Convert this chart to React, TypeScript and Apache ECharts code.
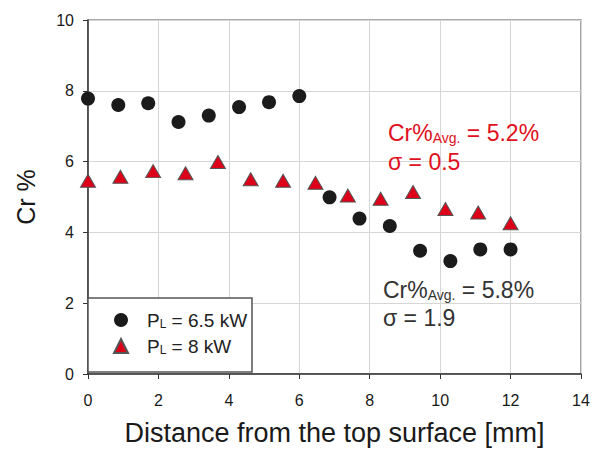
import React, { useEffect, useRef } from "react";
import * as echarts from "echarts";

const circleX = [0, 0.86, 1.71, 2.57, 3.43, 4.29, 5.14, 6.0, 6.86, 7.71, 8.57, 9.43, 10.29, 11.14, 12.0];
const circleY = [7.78, 7.6, 7.65, 7.12, 7.3, 7.54, 7.68, 7.85, 4.99, 4.39, 4.18, 3.48, 3.19, 3.52, 3.52];
const triX = [0, 0.92, 1.85, 2.77, 3.69, 4.62, 5.54, 6.46, 7.38, 8.31, 9.23, 10.15, 11.08, 12.0];
const triY = [5.46, 5.57, 5.73, 5.67, 5.99, 5.5, 5.46, 5.4, 5.04, 4.95, 5.14, 4.66, 4.56, 4.26];

const seriesNames = ["PL = 6.5 kW", "PL = 8 kW"];
const legendParts: Record<string, [string, string, string]> = {
  "PL = 6.5 kW": ["P", "L", " = 6.5 kW"],
  "PL = 8 kW": ["P", "L", " = 8 kW"],
};
const xName = "Distance from the top surface [mm]";
const yName = "Cr %";
const redNote = ["Cr%", "Avg.", " = 5.2%", "σ = 0.5"];
const blackNote = ["Cr%", "Avg.", " = 5.8%", "σ = 1.9"];

const FONT = "'Liberation Sans', Arial, sans-serif";
const RED = "#e01020";
const TRI_RED = "#dc0018";

export default function App() {
  const ref = useRef<HTMLDivElement>(null);
  useEffect(() => {
    if (!ref.current) return;
    const chart = echarts.init(ref.current, undefined, { renderer: "svg" });
    const noteRich = (color: string) => ({
      m: { fontSize: 23, fontFamily: FONT, fill: color, color, lineHeight: 25, verticalAlign: "bottom" },
      s: { fontSize: 14, fontFamily: FONT, fill: color, color, lineHeight: 17, verticalAlign: "bottom" },
    });
    chart.setOption({
      animation: false,
      textStyle: { fontFamily: FONT },
      grid: {
        left: 88,
        right: 20,
        top: 20,
        bottom: 75,
        show: true,
        borderColor: "#8c8c8c",
        borderWidth: 1.5,
        outerBoundsMode: "none",
        containLabel: false,
      },
      xAxis: {
        type: "value",
        min: 0,
        max: 14,
        interval: 2,
        name: xName,
        nameLocation: "middle",
        nameGap: 45,
        nameTextStyle: { fontSize: 27, color: "#1a1a1a", fontFamily: FONT },
        axisLine: { show: true, onZero: false, lineStyle: { color: "#333", width: 1.5 } },
        axisTick: { show: true, inside: false, length: 5, lineStyle: { color: "#333" } },
        axisLabel: { fontSize: 16, color: "#1a1a1a", margin: 18, fontFamily: FONT },
        splitLine: { show: true, lineStyle: { color: "#d6d6d6", width: 1 } },
      },
      yAxis: {
        type: "value",
        min: 0,
        max: 10,
        interval: 2,
        name: yName,
        nameLocation: "middle",
        nameGap: 50,
        nameTextStyle: { fontSize: 25, color: "#1a1a1a", fontFamily: FONT },
        axisLine: { show: true, onZero: false, lineStyle: { color: "#333", width: 1.5 } },
        axisTick: { show: true, inside: false, length: 5, lineStyle: { color: "#333" } },
        axisLabel: { fontSize: 16, color: "#1a1a1a", margin: 14, fontFamily: FONT },
        splitLine: { show: true, lineStyle: { color: "#d6d6d6", width: 1 } },
      },
      legend: {
        orient: "vertical",
        left: 113,
        top: 311,
        padding: 0,
        itemGap: 7,
        itemWidth: 14,
        itemHeight: 14,
        selectedMode: false,
        data: seriesNames,
        formatter: (name: string) => {
          const p = legendParts[name];
          return `{a|${p[0]}}{s|${p[1]}}{a|${p[2]}}`;
        },
        textStyle: {
          padding: [0, 0, 0, 14],
          rich: {
            a: { fontSize: 19, color: "#222", fontFamily: FONT, lineHeight: 20, verticalAlign: "bottom" },
            s: { fontSize: 12, color: "#222", fontFamily: FONT, lineHeight: 16, verticalAlign: "bottom" },
          },
        },
      },
      graphic: [
        {
          type: "rect",
          z: 3,
          shape: { x: 88, y: 298, width: 164, height: 74 },
          style: { fill: "#fff", stroke: "#555", lineWidth: 1.5 },
        },
        {
          type: "text",
          z: 5,
          x: 388,
          y: 132,
          style: {
            text: `{m|${redNote[0]}}{s|${redNote[1]}}{m|${redNote[2]}}`,
            rich: noteRich(RED),
            fill: RED,
            verticalAlign: "middle",
          },
        },
        {
          type: "text",
          z: 5,
          x: 388,
          y: 162,
          style: {
            text: redNote[3],
            fill: RED,
            font: `23px ${FONT}`,
            verticalAlign: "middle",
          },
        },
        {
          type: "text",
          z: 5,
          x: 383,
          y: 289,
          style: {
            text: `{m|${blackNote[0]}}{s|${blackNote[1]}}{m|${blackNote[2]}}`,
            rich: noteRich("#333"),
            fill: "#333",
            verticalAlign: "middle",
          },
        },
        {
          type: "text",
          z: 5,
          x: 383,
          y: 318,
          style: {
            text: blackNote[3],
            fill: "#333",
            font: `23px ${FONT}`,
            verticalAlign: "middle",
          },
        },
      ],
      series: [
        {
          name: seriesNames[0],
          type: "scatter",
          symbol: "circle",
          symbolSize: 14,
          itemStyle: { color: "#1b1b1b", opacity: 1 },
          data: circleX.map((x, i) => [x, circleY[i]]),
          z: 3,
        },
        {
          name: seriesNames[1],
          type: "scatter",
          symbol: "triangle",
          symbolSize: [15, 13],
          itemStyle: { color: TRI_RED, borderColor: "#555", borderWidth: 1, opacity: 1 },
          data: triX.map((x, i) => [x, triY[i]]),
          z: 3,
        },
      ],
    });
    return () => chart.dispose();
  }, []);
  return (
    <div
      ref={ref}
      style={{ position: "fixed", left: 0, top: 0, width: 601, height: 449, background: "#fff" }}
    />
  );
}
